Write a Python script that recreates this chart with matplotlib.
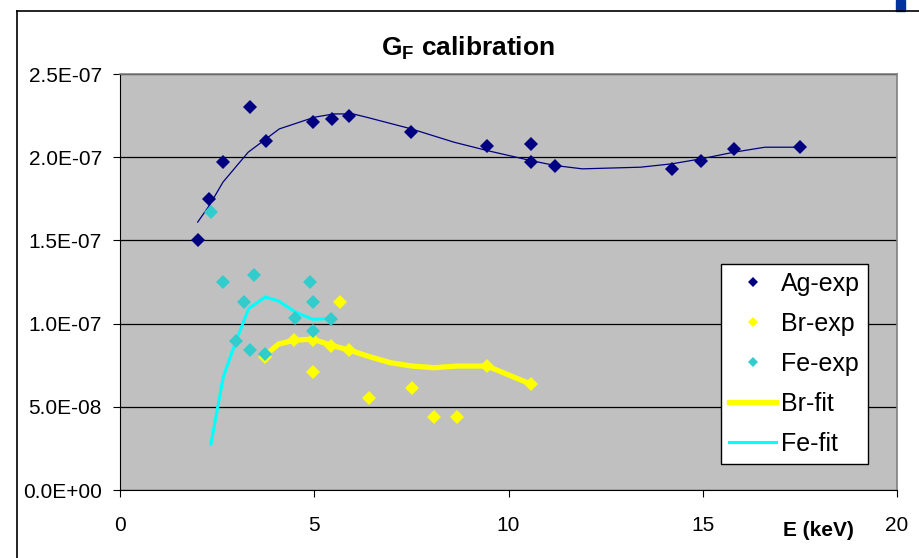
import matplotlib
matplotlib.use("Agg")
import matplotlib.pyplot as plt
from matplotlib.lines import Line2D
from matplotlib.patches import Rectangle
from matplotlib.ticker import FuncFormatter, MultipleLocator

plt.rcParams['font.family'] = ['Liberation Sans', 'DejaVu Sans']
plt.rcParams['mathtext.fontset'] = 'custom'
plt.rcParams['mathtext.bf'] = 'Liberation Sans:bold'
plt.rcParams['mathtext.rm'] = 'Liberation Sans'

# measured G_F values (energy in keV)
ag_e = [2.0, 2.3, 2.65, 3.35, 3.75, 4.97, 5.45, 5.9, 7.5, 9.45, 10.57, 10.57, 11.2, 14.2, 14.95, 15.8, 17.5]
ag_gf = [1.50e-7, 1.75e-7, 1.97e-7, 2.30e-7, 2.10e-7, 2.21e-7, 2.23e-7, 2.25e-7, 2.15e-7,
         2.07e-7, 2.08e-7, 1.97e-7, 1.95e-7, 1.93e-7, 1.98e-7, 2.05e-7, 2.06e-7]

br_e = [3.74, 4.49, 4.96, 4.96, 5.43, 5.67, 5.90, 6.40, 7.52, 8.08, 8.68, 9.45, 10.57]
br_gf = [8.0e-8, 9.0e-8, 9.0e-8, 7.1e-8, 8.65e-8, 1.13e-7, 8.4e-8, 5.5e-8, 6.15e-8,
         4.4e-8, 4.4e-8, 7.45e-8, 6.37e-8]

fe_e = [2.34, 2.66, 2.98, 3.18, 3.35, 3.45, 3.74, 4.51, 4.88, 4.96, 4.96, 5.44]
fe_gf = [1.67e-7, 1.25e-7, 8.96e-8, 1.13e-7, 8.41e-8, 1.29e-7, 8.2e-8, 1.036e-7, 1.25e-7,
         1.13e-7, 9.57e-8, 1.026e-7]

# fitted curves
ag_fit_e = [2.0, 2.3, 2.65, 3.3, 4.1, 5.0, 5.5, 6.0, 6.35, 7.5, 8.6, 9.45, 10.57, 11.2,
            11.9, 13.4, 14.2, 14.95, 15.8, 16.6, 17.5]
ag_fit = [1.61e-7, 1.71e-7, 1.85e-7, 2.03e-7, 2.17e-7, 2.24e-7, 2.26e-7, 2.26e-7, 2.24e-7,
          2.17e-7, 2.09e-7, 2.04e-7, 1.98e-7, 1.95e-7, 1.93e-7, 1.94e-7, 1.96e-7, 1.99e-7,
          2.03e-7, 2.06e-7, 2.06e-7]

br_fit_e = [3.74, 4.08, 4.49, 4.96, 5.43, 5.90, 6.44, 6.96, 7.52, 8.08, 8.68, 9.45, 10.57]
br_fit = [8.1e-8, 8.77e-8, 9.0e-8, 9.07e-8, 8.7e-8, 8.41e-8, 8.0e-8, 7.65e-8, 7.45e-8,
          7.35e-8, 7.45e-8, 7.45e-8, 6.37e-8]

fe_fit_e = [2.34, 2.66, 2.98, 3.31, 3.74, 4.08, 4.51, 4.96, 5.44]
fe_fit = [2.76e-8, 6.81e-8, 8.91e-8, 1.09e-7, 1.16e-7, 1.136e-7, 1.07e-7, 1.026e-7, 1.03e-7]

W, H = 919, 558
fig = plt.figure(figsize=(W / 100, H / 100), dpi=100)
ax = fig.add_axes([120 / W, 1 - 490 / H, 777 / W, 416 / H])
ax.set_facecolor('#C0C0C0')

ax.plot(ag_fit_e, ag_fit, color='#000080', lw=0.9, zorder=2)
ax.plot(br_fit_e, br_fit, color='#FFFF00', lw=3.8, zorder=2, label='Br-fit')
ax.plot(fe_fit_e, fe_fit, color='#00FFFF', lw=2.2, zorder=2, label='Fe-fit')

ax.plot(ag_e, ag_gf, 'D', color='#000080', ms=7, mew=0, zorder=3, label='Ag-exp')
ax.plot(br_e, br_gf, 'D', color='#FFFF00', ms=7, mew=0, zorder=3, label='Br-exp')
ax.plot(fe_e, fe_gf, 'D', color='#33CCCC', ms=7, mew=0, zorder=3, label='Fe-exp')

ax.set_xlim(0, 20)
ax.set_ylim(0, 2.5e-7)
ax.xaxis.set_major_locator(MultipleLocator(5))
ax.yaxis.set_major_locator(MultipleLocator(5e-8))
ax.yaxis.set_major_formatter(FuncFormatter(lambda v, p: f'{v:.1E}'))
ax.grid(axis='y', color='black', lw=0.9)
ax.set_axisbelow(True)

ax.tick_params(axis='y', direction='out', length=5, width=0.8, pad=8, labelsize=15)
ax.tick_params(axis='x', direction='out', length=5, width=0.8, pad=14, labelsize=15)
for side in ('top', 'right'):
    ax.spines[side].set_color('#808080')
    ax.spines[side].set_linewidth(1.2)
for side in ('left', 'bottom'):
    ax.spines[side].set_color('black')
    ax.spines[side].set_linewidth(0.8)

handles, labels = ax.get_legend_handles_labels()
order = ['Ag-exp', 'Br-exp', 'Fe-exp', 'Br-fit', 'Fe-fit']
hmap = dict(zip(labels, handles))
leg = ax.legend([hmap[k] for k in order], order, loc='upper left',
                bbox_to_anchor=(721 / W, 1 - 264 / H), bbox_transform=fig.transFigure,
                borderaxespad=0, fontsize=18, handlelength=1.9, handletextpad=0.2,
                borderpad=0.31, labelspacing=0.64, fancybox=False, framealpha=1,
                edgecolor='black', markerscale=0.75)
leg.get_frame().set_linewidth(1.0)

fig.text(468 / W, 1 - 48 / H, r'$\mathbf{G}_\mathbf{F}$ calibration', fontsize=19,
         fontweight='bold', ha='center', va='center')
fig.text(818 / W, 1 - 531 / H, 'E (keV)', fontsize=15, fontweight='bold',
         ha='center', va='center')

# chart frame and corner block
fig.add_artist(Line2D([17 / W, 17 / W], [0, 1 - 11 / H], color='black', lw=1.2))
fig.add_artist(Line2D([17 / W, 1], [1 - 11 / H, 1 - 11 / H], color='black', lw=1.2))
fig.add_artist(Rectangle((896 / W, 1 - 11 / H), 9 / W, 11 / H, color='#0033A0'))

fig.savefig('out.png', dpi=100)
